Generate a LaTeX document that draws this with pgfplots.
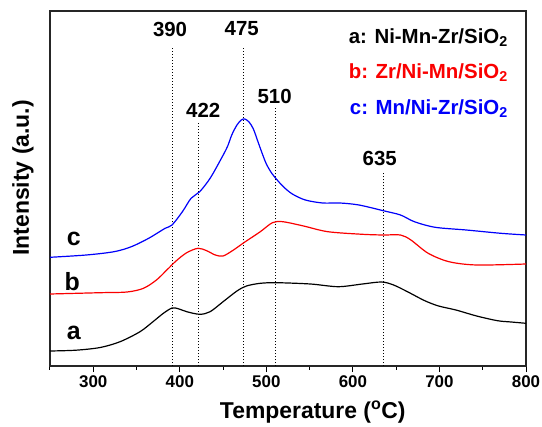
\documentclass[border=0pt]{standalone}
\usepackage{fontspec}
\setmainfont{Liberation Sans}
\usepackage{pgfplots}
\pgfplotsset{compat=1.18}
\usetikzlibrary{calc}
\definecolor{cred}{RGB}{250,0,0}
\definecolor{cblue}{RGB}{0,0,250}
\begin{document}
\begin{tikzpicture}
\begin{axis}[name=ax, scale only axis, width=476bp, height=355bp,
 xmin=250, xmax=800, ymin=0, ymax=355,
 xtick={300,400,...,800}, minor xtick={250,350,...,750}, ytick=\empty,
 xtick pos=left, tick align=outside, major tick length=6bp, minor tick length=3.5bp,
 axis line style={line width=1.2bp, black!85},
 every tick/.style={black, line width=1bp},
 xticklabel style={font=\fontsize{17}{19}\selectfont\bfseries},
 /pgf/number format/assume math mode=true,
 xlabel={Temperature (\textsuperscript{o}C)}, ylabel={Intensity (a.u.)},
 label style={font=\fontsize{23}{26}\selectfont\bfseries},
 xlabel style={at={(axis description cs:0.552,-0.13)}, anchor=center},
 ylabel style={at={(axis description cs:-0.057,0.53)}, anchor=center},
 clip=false]
% dotted marker lines
\addplot[black, dotted, line width=1bp] coordinates {(391,0) (391,320)};
\addplot[black, dotted, line width=1bp] coordinates {(422,0) (422,244)};
\addplot[black, dotted, line width=1bp] coordinates {(474,0) (474,320)};
\addplot[black, dotted, line width=1bp] coordinates {(510,0) (510,260)};
\addplot[black, dotted, line width=1bp] coordinates {(635,0) (635,194)};
% curve a
\addplot[black, line width=1.2bp, smooth] coordinates {
(250,15) (280,15.8) (308,18.5) (331,24.3) (354,34.3) (369,44.3) (381,52.7) (391,58) (398,57.3)
(408,54.3) (423,51.7) (435,54.3) (450,64.3) (466,75) (477,80) (493,82.7) (512,83.3) (551,82)
(583,79.3) (611,82) (633,84) (647,81) (663,74.3) (683,65.3) (699,60) (719,56)
(743,50) (767,45.3) (783,44) (800,42.7)};
% curve b
\addplot[cred, line width=1.2bp, smooth] coordinates {
(250,72) (308,73.3) (339,74) (358,77.7) (373,86) (385,96) (396,105.3) (408,113.3) (421,117.7)
(431,115.3) (441,111) (450,110) (462,116) (474,123.3) (493,134.3) (507,143.3) (519,144.3)
(543,140) (571,134.3) (611,131.7) (635,131) (655,131) (667,126) (687,112.7)
(711,104.3) (743,101) (800,102)};
% curve c
\addplot[cblue, line width=1.2bp, smooth] coordinates {
(250,108.7) (292,111) (324,114.3) (344,119.3) (364,127.7) (383,137.7) (391,141)
(403,154.3) (413,167.7) (423,174.3) (435,187.7) (447,206) (455,219.3) (460,231)
(466,241) (471,246) (475,247) (480,244) (485,237) (490,225) (495,213) (500,202)
(506,193) (512,186.5) (520,179) (530,172) (545,166) (565,163) (585,163) (607,161)
(635,155.3) (655,151) (671,144.3) (695,138.7) (731,136) (771,132.7) (800,131)};
% peak labels
\tikzset{pk/.style={font=\fontsize{20.5}{22}\selectfont\bfseries, anchor=center}}
\node[pk] at (axis cs:388.7,337) {390};
\node[pk] at (axis cs:471.5,337) {475};
\node[pk] at (axis cs:427,256) {422};
\node[pk] at (axis cs:509.5,269.3) {510};
\node[pk] at (axis cs:631,207.7) {635};
% curve labels
\tikzset{cl/.style={font=\fontsize{25}{27}\selectfont\bfseries, anchor=center}}
\node[cl] at (axis cs:277.6,126.7) {c};
\node[cl] at (axis cs:275.6,84) {b};
\node[cl] at (axis cs:277.6,33) {a};
% legend text
\tikzset{lg/.style={font=\fontsize{20.5}{22}\selectfont\bfseries, anchor=east}}
\node[lg, black] at (axis cs:783,328) {a: Ni-Mn-Zr/SiO\textsubscript{2}};
\node[lg, cred] at (axis cs:783,293) {b: Zr/Ni-Mn/SiO\textsubscript{2}};
\node[lg, cblue] at (axis cs:783,257) {c: Mn/Ni-Zr/SiO\textsubscript{2}};
\end{axis}
\pgfresetboundingbox
\path[use as bounding box] ($(ax.south west)+(-50bp,-61bp)$) rectangle ($(ax.north east)+(16bp,11bp)$);
\end{tikzpicture}
\end{document}
